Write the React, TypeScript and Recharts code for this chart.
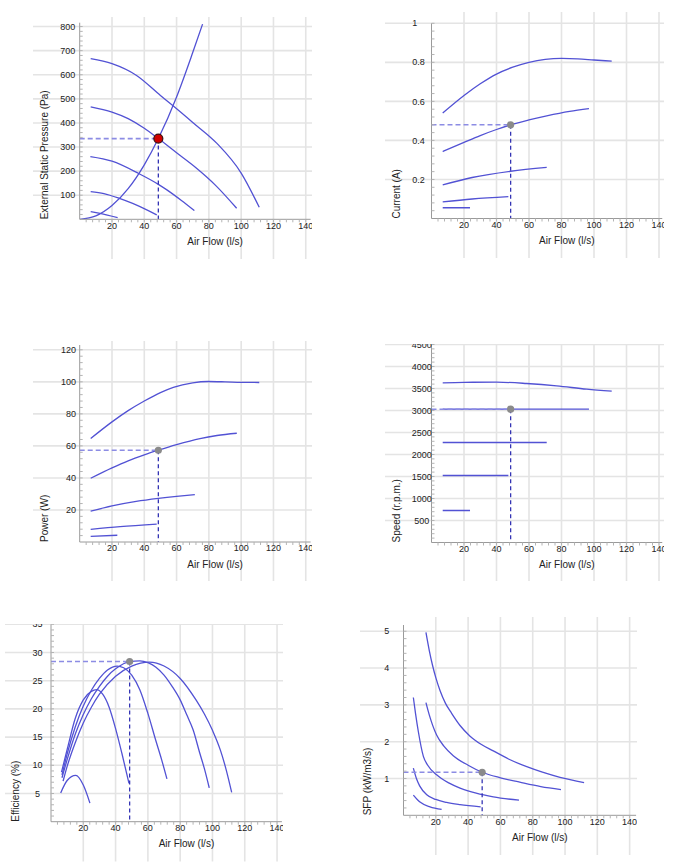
import React from 'react';
import { LineChart, Line, XAxis, YAxis, CartesianGrid, ReferenceDot } from 'recharts';

// Fan curves at five speeds (A = highest), air flow in l/s
const pressureA = [[6.8, 667], [20, 646], [35, 598], [50, 514], [58, 470], [70, 402], [85, 315], [100, 192], [111.2, 50]];
const pressureB = [[6.8, 467], [20, 445], [30, 418], [40, 378], [48.7, 335], [60, 276], [72, 214], [84, 142], [97.2, 46]];
const pressureC = [[6.6, 260], [20, 241], [36.5, 190], [48.7, 145], [54, 122], [63, 78], [71, 36]];
const pressureD = [[6.8, 115], [15, 107], [24.6, 87], [32.8, 66], [42.5, 36], [47.7, 18]];
const pressureE = [[6.8, 32], [12.6, 25], [23.5, 7]];
const systemCurve = [[0, 0], [10, 14], [20, 57], [30, 127], [40, 226], [48.7, 335], [60, 508], [70, 692], [76.1, 810]];

const currentA = [[6.9, 0.54], [20, 0.63], [30, 0.69], [40, 0.74], [50, 0.775], [60, 0.8], [70, 0.815], [80, 0.82], [90, 0.818], [100, 0.812], [110.9, 0.806]];
const currentB = [[6.9, 0.343], [20, 0.39], [30, 0.425], [40, 0.456], [48.7, 0.48], [60, 0.505], [70.9, 0.526], [85, 0.549], [96.9, 0.563]];
const currentC = [[6.9, 0.172], [25, 0.21], [48.7, 0.242], [70.9, 0.262]];
const currentD = [[6.9, 0.085], [25, 0.1], [47.3, 0.112]];
const currentE = [[6.9, 0.055], [23.7, 0.055]];

const powerA = [[6.8, 64.6], [20, 75], [30, 82], [40, 88], [50, 93.3], [58, 96.6], [70, 99.4], [79.6, 100.2], [90, 100], [100, 99.7], [111.2, 99.6]];
const powerB = [[6.8, 39.8], [20, 46.3], [30, 50.7], [40, 54.4], [48.7, 57.3], [60, 60.8], [74.5, 64.6], [85, 66.5], [97.3, 67.9]];
const powerC = [[6.8, 19.2], [20, 22.5], [35, 25.3], [48.7, 27.2], [60, 28.5], [71.3, 29.6]];
const powerD = [[6.8, 7.9], [25, 9.6], [47.7, 11.2]];
const powerE = [[6.8, 3.5], [23.3, 4.2]];

const speedA = [[6.9, 3629], [20, 3640], [40, 3644], [58.5, 3614], [77, 3561], [95.5, 3485], [110.9, 3439]];
const speedB = [[6.9, 3030], [48.7, 3030], [96.9, 3030]];
const speedC = [[6.9, 2273], [70.9, 2273]];
const speedD = [[6.9, 1523], [47.3, 1523]];
const speedE = [[6.9, 727], [23.7, 727]];

const effA = [[7.5, 7.2], [10, 9.8], [15, 14], [20, 17.5], [25, 20.3], [30, 22.6], [40, 25.8], [50, 27.6], [61, 28.3], [70, 27.6], [80, 25.4], [90, 21.5], [95, 19.1], [100, 16.2], [105, 12.6], [108.5, 9.2], [111.9, 5.2]];
const effB = [[6.8, 7.8], [10, 11], [15, 15.5], [20, 19], [25, 21.8], [30, 24], [35, 25.8], [40, 27.1], [48.7, 28.4], [55, 28.5], [60, 28.2], [65, 27.4], [70, 26], [75, 24], [80, 21.6], [84, 19], [88, 16.3], [92.3, 12], [95, 9.4], [98, 6]];
const effC = [[6.8, 8.3], [10, 12], [15, 16.8], [20, 20.5], [25, 23.3], [30, 25.4], [35, 26.9], [41, 27.6], [45, 27.3], [50, 26], [55, 23.4], [60, 19.2], [65, 14.3], [68.5, 11], [71.8, 7.6]];
const effD = [[6.5, 8.8], [10, 12.8], [15, 18.3], [20, 21.6], [25, 23.1], [28.3, 23.4], [32, 22.6], [36, 20.3], [40, 16.5], [44, 12], [48.3, 6.8]];
const effE = [[6, 5.1], [10, 7.3], [15.3, 8.2], [20, 6.5], [24.1, 3.3]];

const sfpA = [[13.9, 4.97], [16, 4.47], [18, 4.07], [20, 3.74], [22.6, 3.39], [26, 3.04], [29.8, 2.77], [35, 2.44], [41.2, 2.15], [48, 1.93], [55.6, 1.75], [65, 1.53], [76.3, 1.32], [86, 1.17], [96.9, 1.03], [111.8, 0.89]];
const sfpB = [[13.9, 3.06], [16, 2.72], [18, 2.45], [20.5, 2.18], [25, 1.88], [30.8, 1.62], [40, 1.36], [48.7, 1.17], [60, 1.02], [72, 0.9], [85, 0.78], [97.5, 0.7]];
const sfpC = [[6.1, 3.2], [7.5, 2.75], [9.2, 2.27], [12.3, 1.6], [15, 1.36], [20.5, 1.1], [28, 0.88], [35, 0.74], [45, 0.6], [55.6, 0.5], [71.5, 0.41]];
const sfpD = [[6.1, 1.28], [8, 1.0], [10, 0.8], [14.4, 0.56], [20, 0.43], [26.7, 0.35], [35, 0.29], [47.8, 0.23]];
const sfpE = [[6.1, 0.55], [10.2, 0.36], [16.4, 0.23], [23.6, 0.16]];

// Duty point
const OP_FLOW = 48.7;
const OP_PRESSURE = 335;
const OP_CURRENT = 0.48;
const OP_POWER = 57.3;
const OP_SPEED = 3030;
const OP_EFFICIENCY = 28.4;
const OP_SFP = 1.17;

const X_TICKS = [20, 40, 60, 80, 100, 120, 140];
const PRESSURE_TICKS = [100, 200, 300, 400, 500, 600, 700, 800];
const CURRENT_TICKS = [0.2, 0.4, 0.6, 0.8, 1];
const POWER_TICKS = [20, 40, 60, 80, 100, 120];
const SPEED_TICKS = [500, 1000, 1500, 2000, 2500, 3000, 3500, 4000, 4500];
const EFF_TICKS = [5, 10, 15, 20, 25, 30, 35];
const SFP_TICKS = [1, 2, 3, 4, 5];

const FONT = '"Liberation Sans", Arial, sans-serif';
const CURVE = '#5252d4';
const GRID = '#e4e4e4';
const AXIS = '#9a9a9a';
const MINOR = '#b4b4b4';

type Pt = { x: number; y: number };
const pts = (rows: number[][]): Pt[] => rows.map(([x, y]) => ({ x, y }));

// minor tick positions, every `step` up to `max`
const steps = (step: number, max: number) => {
  const out: number[] = [];
  for (let v = step; v <= max + 1e-9; v += step) out.push(+v.toFixed(4));
  return out;
};
const isMajor = (majors: number[], v: number) => majors.some((t) => Math.abs(t - v) < 1e-6);

type Margin = { top: number; right: number; bottom: number; left: number };

type PanelProps = {
  left: number;
  top: number;
  width: number;
  height: number;
  margin: Margin;
  xMax: number;
  yMax: number;
  yTicks: number[];
  yMinorStep: number;
  yLabelAnchor: 'start' | 'middle' | 'end';
  yLabelGap: number;
  yTitle: string;
  curves: number[][][];
  system?: number[][];
  opValue: number;
  redDot?: boolean;
};

function Panel(p: PanelProps) {
  const plotLeft = p.margin.left;
  const plotRight = p.width - p.margin.right;
  const plotTop = p.margin.top;
  const plotBottom = p.height - p.margin.bottom;
  const plotW = plotRight - plotLeft;
  const topIsTick = isMajor(p.yTicks, p.yMax);

  // small tick below the x axis, label on every 20 l/s
  const xTick = (t: any) => {
    const axisY = t.y - 2;
    return (
      <g>
        <line x1={t.x} x2={t.x} y1={axisY} y2={axisY + 3} stroke={MINOR} />
        {isMajor(X_TICKS, t.payload.value) && (
          <text x={t.x} y={axisY + 3} dy="0.71em" textAnchor="middle" fontSize={9} fill="#222" fontFamily={FONT}>
            {t.payload.value}
          </text>
        )}
      </g>
    );
  };
  // small tick inside the y axis, label on the major values
  const yTick = (t: any) => (
    <g>
      <line x1={t.x} x2={t.x + 3} y1={t.y} y2={t.y} stroke={MINOR} />
      {isMajor(p.yTicks, t.payload.value) && (
        <text x={t.x - p.yLabelGap} y={t.y} dy="0.35em" textAnchor={p.yLabelAnchor} fontSize={9} fill="#222"
          fontFamily={FONT}>
          {t.payload.value}
        </text>
      )}
    </g>
  );

  // grid runs past the plot on the left and below
  const hLine = (g: any) => {
    if (g.y1 > plotBottom - 0.5) return null;
    if (g.y1 < plotTop + 0.5 && !topIsTick) return null;
    return <line key={`h${g.index}`} x1={0} x2={p.width} y1={g.y1} y2={g.y2} stroke={GRID} strokeWidth={1.6} />;
  };
  const vLine = (g: any) => {
    if (g.x1 < plotLeft + 0.5 || g.x1 > plotRight - 0.5) return null;
    return <line key={`v${g.index}`} x1={g.x1} x2={g.x2} y1={0} y2={p.height} stroke={GRID} strokeWidth={1.6} />;
  };

  const xTitle = () => (
    <text x={plotLeft + plotW / 2 + 20} y={plotBottom + 22} textAnchor="middle" dominantBaseline="central"
      fontSize={10} fill="#222" fontFamily={FONT}>
      Air Flow (l/s)
    </text>
  );
  const yTitle = () => {
    const x = plotLeft - 35.5;
    return (
      <text x={x} y={plotBottom} transform={`rotate(-90 ${x} ${plotBottom})`} textAnchor="start"
        dominantBaseline="central" fontSize={10} fill="#222" fontFamily={FONT}>
        {p.yTitle}
      </text>
    );
  };

  return (
    <div style={{ position: 'absolute', left: p.left, top: p.top }}>
      <LineChart width={p.width} height={p.height}
        margin={{ top: p.margin.top, right: p.margin.right, left: 0, bottom: 0 }}>
        <CartesianGrid horizontal={hLine} vertical={vLine} horizontalValues={p.yTicks} verticalValues={X_TICKS} />
        <XAxis dataKey="x" type="number" domain={[0, p.xMax]} ticks={steps(4, 140)} interval={0}
          height={p.margin.bottom} tickSize={0} tickMargin={2} tickLine={false} axisLine={{ stroke: AXIS }}
          tick={xTick} label={xTitle} allowDataOverflow />
        <YAxis type="number" domain={[0, p.yMax]} ticks={steps(p.yMinorStep, p.yMax)} interval={0}
          width={p.margin.left} tickSize={0} tickMargin={0} tickLine={false} axisLine={{ stroke: AXIS }}
          tick={yTick} label={yTitle} allowDataOverflow />
        {p.curves.map((c, i) => (
          <Line key={`c${i}`} data={pts(c)} dataKey="y" type="monotone" stroke={CURVE} strokeWidth={1.3}
            dot={false} activeDot={false} isAnimationActive={false} />
        ))}
        {p.system && (
          <Line data={pts(p.system)} dataKey="y" type="monotone" stroke={CURVE} strokeWidth={1.3}
            dot={false} activeDot={false} isAnimationActive={false} />
        )}
        <Line data={pts([[0, p.opValue], [OP_FLOW, p.opValue]])} dataKey="y" type="linear" stroke="#8c8ce4"
          strokeWidth={1.6} strokeDasharray="5 3" dot={false} activeDot={false} isAnimationActive={false} />
        <Line data={pts([[OP_FLOW, p.opValue], [OP_FLOW, 0]])} dataKey="y" type="linear" stroke="#3434b4"
          strokeWidth={1.3} strokeDasharray="4 3" dot={false} activeDot={false} isAnimationActive={false} />
        {p.redDot ? (
          <ReferenceDot x={OP_FLOW} y={p.opValue} r={4.5} fill="#d10000" stroke="#3a1010" strokeWidth={1.2} />
        ) : (
          <ReferenceDot x={OP_FLOW} y={p.opValue} r={3.6} fill="#8a8a8a" stroke="none" />
        )}
      </LineChart>
    </div>
  );
}

export default function App() {
  return (
    <div style={{ position: 'absolute', left: 0, top: 0, width: 688, height: 867, background: '#fff', fontFamily: FONT }}>
      <Panel left={33} top={17} width={279} height={242}
        margin={{ top: 5.7, right: 1.4, bottom: 39.7, left: 46.7 }}
        xMax={143} yMax={816} yTicks={PRESSURE_TICKS} yMinorStep={20} yLabelAnchor="end" yLabelGap={4.4}
        yTitle="External Static Pressure (Pa)"
        curves={[pressureA, pressureB, pressureC, pressureD, pressureE]} system={systemCurve}
        opValue={OP_PRESSURE} redDot />
      <Panel left={385} top={12} width={279} height={246}
        margin={{ top: 11.3, right: 1.75, bottom: 39.5, left: 46.5 }}
        xMax={142} yMax={1} yTicks={CURRENT_TICKS} yMinorStep={0.04} yLabelAnchor="start" yLabelGap={19.2}
        yTitle="Current (A)"
        curves={[currentA, currentB, currentC, currentD, currentE]}
        opValue={OP_CURRENT} />
      <Panel left={33} top={341} width={279} height={240}
        margin={{ top: 4, right: 1.4, bottom: 39, left: 46.7 }}
        xMax={143} yMax={123} yTicks={POWER_TICKS} yMinorStep={4} yLabelAnchor="end" yLabelGap={3.7}
        yTitle="Power (W)"
        curves={[powerA, powerB, powerC, powerD, powerE]}
        opValue={OP_POWER} />
      <Panel left={385} top={343.5} width={279} height={237.5}
        margin={{ top: 0.5, right: 1.75, bottom: 39, left: 46.5 }}
        xMax={142} yMax={4500} yTicks={SPEED_TICKS} yMinorStep={100} yLabelAnchor="middle" yLabelGap={9.8}
        yTitle="Speed (r.p.m.)"
        curves={[speedA, speedB, speedC, speedD, speedE]}
        opValue={OP_SPEED} />
      <Panel left={5} top={624} width={278} height={237.5}
        margin={{ top: 0.3, right: 1.1, bottom: 39.8, left: 46 }}
        xMax={143} yMax={35} yTicks={EFF_TICKS} yMinorStep={1} yLabelAnchor="middle" yLabelGap={13.5}
        yTitle="Efficiency (%)"
        curves={[effA, effB, effC, effD, effE]}
        opValue={OP_EFFICIENCY} />
      <Panel left={360} top={617} width={277} height={238}
        margin={{ top: 8, right: 0.9, bottom: 39.7, left: 43.5 }}
        xMax={144} yMax={5.17} yTicks={SFP_TICKS} yMinorStep={0.2} yLabelAnchor="middle" yLabelGap={16.8}
        yTitle="SFP (kW/m3/s)"
        curves={[sfpA, sfpB, sfpC, sfpD, sfpE]}
        opValue={OP_SFP} />
    </div>
  );
}
